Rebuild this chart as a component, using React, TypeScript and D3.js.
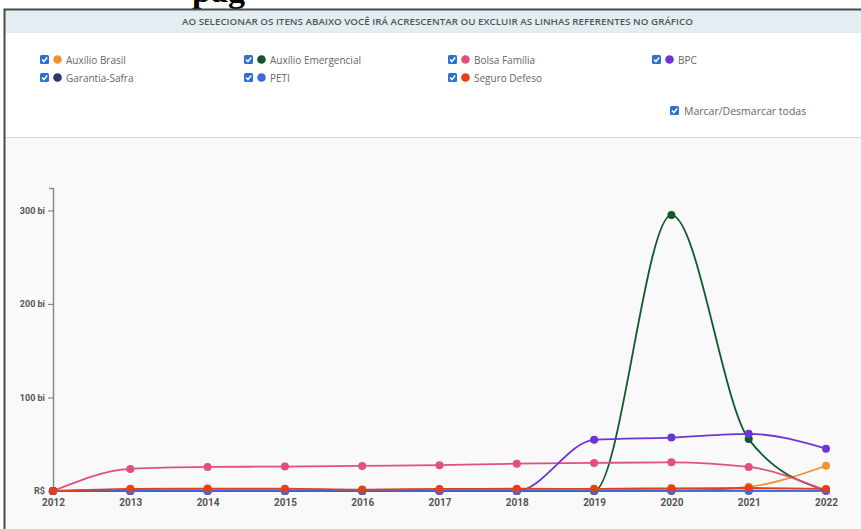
import * as d3 from 'd3';
import { useRef, useEffect } from 'react';

const years = [2012, 2013, 2014, 2015, 2016, 2017, 2018, 2019, 2020, 2021, 2022];

// values in R$ bilhões
const auxilioBrasil = [0, 0, 0, 0, 0, 0, 0, 0, 0, 4.5, 27];
const auxilioEmergencial = [0, 0, 0, 0, 0, 0, 0, 0, 295, 55.5, 0.5];
const bolsaFamilia = [0, 23.6, 25.7, 26.1, 26.8, 27.6, 29.2, 30, 30.7, 25.7, 0.5];
const bpc = [0, 0, 0, 0, 0, 0, 0, 54.7, 57.1, 61.1, 45.3];
const garantiaSafra = [0, 0.8, 0.7, 0.6, 0.5, 0.6, 0.5, 0.5, 0.6, 0.5, 0.5];
const peti = [0, 0.1, 0.1, 0.1, 0.1, 0.1, 0.1, 0.1, 0.1, 0.1, 0.1];
const seguroDefeso = [0, 2.3, 2.6, 2.5, 1.5, 2.2, 2.4, 2.3, 2.9, 3.2, 2.2];

const seriesNames = ['Auxílio Brasil', 'Auxílio Emergencial', 'Bolsa Família', 'BPC', 'Garantia-Safra', 'PETI', 'Seguro Defeso'];
const seriesValues = [auxilioBrasil, auxilioEmergencial, bolsaFamilia, bpc, garantiaSafra, peti, seguroDefeso];
const seriesColors = ['#f0922e', '#0f5a2b', '#e0507f', '#6b35d8', '#2c3772', '#3a6be0', '#e2401d'];

const yTicks = [0, 100, 200, 300];
const yMax = 324;

const headerText = 'AO SELECIONAR OS ITENS ABAIXO VOCÊ IRÁ ACRESCENTAR OU EXCLUIR AS LINHAS REFERENTES NO GRÁFICO';
const toggleAllText = 'Marcar/Desmarcar todas';

const W = 861;
const H = 529;

const App = () => {
    const svgRef = useRef<SVGSVGElement | null>(null);

    useEffect(() => {
        d3.select(svgRef.current).selectAll('*').remove();

        const svg = d3.select(svgRef.current)
            .attr('width', W)
            .attr('height', H);

        // page background + cropped heading above the panel
        svg.append('rect').attr('width', W).attr('height', H).attr('fill', '#ffffff');
        svg.append('text')
            .attr('x', 192)
            .attr('y', 2)
            .attr('font-family', '"Liberation Serif", serif')
            .attr('font-weight', 'bold')
            .attr('font-size', 34)
            .attr('fill', '#000')
            .text('pág');

        // panel
        svg.append('rect').attr('x', 4).attr('y', 10).attr('width', W).attr('height', H)
            .attr('fill', '#ffffff');
        svg.append('rect').attr('x', 4).attr('y', 10).attr('width', W).attr('height', 23)
            .attr('fill', '#e4eef2');
        svg.append('rect').attr('x', 4).attr('y', 137).attr('width', W).attr('height', H)
            .attr('fill', '#f9f9f9');
        svg.append('line').attr('x1', 4).attr('x2', W).attr('y1', 137.5).attr('y2', 137.5)
            .attr('stroke', '#d6d6d6');
        svg.append('path')
            .attr('d', `M4.5,${H} V9.5 H${W}`)
            .attr('fill', 'none')
            .attr('stroke', '#4a4a4a')
            .attr('stroke-width', 2);

        svg.append('text')
            .attr('x', 182)
            .attr('y', 25)
            .attr('font-family', '"Open Sans", sans-serif')
            .attr('font-weight', 600)
            .attr('font-size', 9)
            .attr('fill', '#555')
            .attr('textLength', 511)
            .attr('lengthAdjust', 'spacingAndGlyphs')
            .text(headerText);

        // legend checkboxes
        const checkbox = (g: d3.Selection<SVGGElement, unknown, null, undefined>) => {
            g.append('rect').attr('width', 9).attr('height', 9).attr('rx', 1.5).attr('fill', '#2a72d8');
            g.append('path').attr('d', 'M2,4.6 L3.9,6.6 L7.2,2.6')
                .attr('fill', 'none').attr('stroke', '#fff').attr('stroke-width', 1.5);
        };

        seriesNames.forEach((name, i) => {
            const col = i % 4;
            const row = Math.floor(i / 4);
            const g = svg.append('g')
                .attr('transform', `translate(${40 + col * 204},${55 + row * 18})`);
            checkbox(g.append('g'));
            g.append('circle').attr('cx', 17.5).attr('cy', 4.5).attr('r', 4.3).attr('fill', seriesColors[i]);
            g.append('text')
                .attr('x', 26)
                .attr('y', 8.5)
                .attr('font-family', '"Open Sans", sans-serif')
                .attr('font-size', 10)
                .attr('fill', '#666')
                .text(name);
        });

        const toggle = svg.append('g').attr('transform', 'translate(670,106)');
        checkbox(toggle.append('g'));
        toggle.append('text')
            .attr('x', 14)
            .attr('y', 8.5)
            .attr('font-family', '"Open Sans", sans-serif')
            .attr('font-size', 10.5)
            .attr('fill', '#666')
            .text(toggleAllText);

        // scales
        const x = d3.scaleLinear().domain([years[0], years[years.length - 1]]).range([53, 826]);
        const y = d3.scaleLinear().domain([0, yMax]).range([491, 188]);

        // y axis
        const yAxis = svg.append('g')
            .attr('transform', 'translate(53,0)')
            .call(d3.axisLeft(y)
                .tickValues(yTicks)
                .tickSize(5)
                .tickSizeOuter(4)
                .tickPadding(3)
                .tickFormat(d => (+d === 0 ? 'R$' : `${d} bi`)));
        yAxis.select('.domain').attr('stroke', '#8a8a8a').attr('stroke-width', 1.5);
        yAxis.selectAll('.tick line').attr('stroke', '#8a8a8a').attr('stroke-width', 1.2);
        yAxis.selectAll('.tick text')
            .attr('font-family', 'Roboto, sans-serif')
            .attr('font-weight', 'bold')
            .attr('font-size', 9)
            .attr('fill', '#555');

        // x labels
        const xAxis = svg.append('g')
            .attr('transform', 'translate(0,496)')
            .call(d3.axisBottom(x)
                .tickValues(years)
                .tickSize(0)
                .tickPadding(3)
                .tickFormat(d3.format('d')));
        xAxis.select('.domain').remove();
        xAxis.selectAll('.tick text')
            .attr('font-family', 'Roboto, sans-serif')
            .attr('font-weight', 'bold')
            .attr('font-size', 10)
            .attr('fill', '#555');

        // lines + dots
        const line = d3.line<number>()
            .x((_, i) => x(years[i]))
            .y(d => y(d))
            .curve(d3.curveMonotoneX);

        seriesValues.forEach((vals, i) => {
            const g = svg.append('g');
            g.append('path')
                .attr('d', line(vals))
                .attr('fill', 'none')
                .attr('stroke', seriesColors[i])
                .attr('stroke-width', 1.8);
            g.selectAll('circle')
                .data(vals)
                .enter()
                .append('circle')
                .attr('cx', (_, j) => x(years[j]))
                .attr('cy', d => y(d))
                .attr('r', 4)
                .attr('fill', seriesColors[i]);
        });
    }, []);

    return (
        <svg ref={svgRef} style={{ position: 'absolute', left: 0, top: 0, display: 'block' }}></svg>
    );
};

export default App;
